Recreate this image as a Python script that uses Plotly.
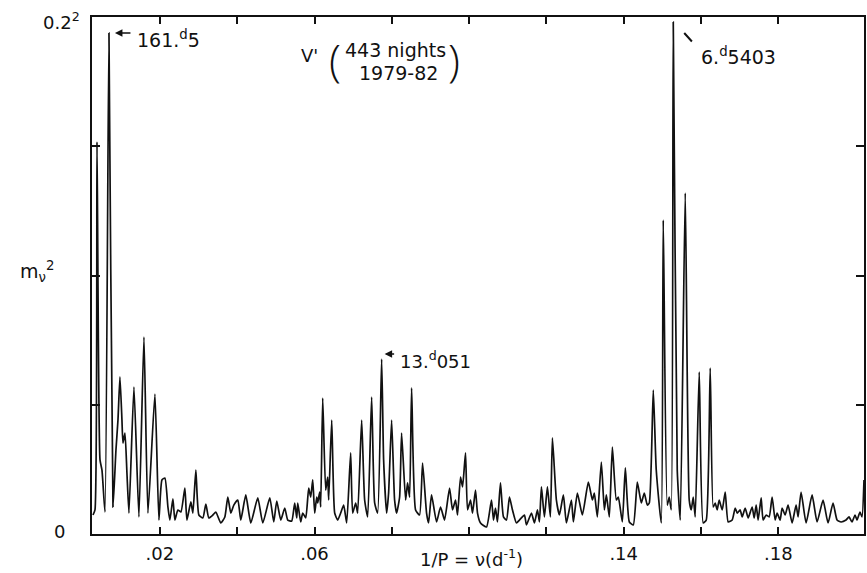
import plotly.graph_objects as go

# Frequency (1/P, d^-1) of traced turning points of the power spectrum
freq = [
    0.00269, 0.00320, 0.00372, 0.00450, 0.00501, 0.00579, 0.00682, 0.00786, 0.00863, 0.00915,
    0.00966, 0.01018, 0.01044, 0.01096, 0.01147, 0.01199, 0.01328, 0.01457, 0.01587, 0.01690,
    0.01871, 0.01974, 0.02052, 0.02129, 0.02207, 0.02258, 0.02336, 0.02388, 0.02465, 0.02543,
    0.02646, 0.02698, 0.02801, 0.02853, 0.02930, 0.03008, 0.03111, 0.03189, 0.03266, 0.03370,
    0.03447, 0.03576, 0.03680, 0.03757, 0.03835, 0.03912, 0.04016, 0.04093, 0.04222, 0.04352,
    0.04532, 0.04662, 0.04843, 0.04946, 0.05023, 0.05127, 0.05230, 0.05308, 0.05411, 0.05488,
    0.05540, 0.05566, 0.05643, 0.05695, 0.05773, 0.05850, 0.05902, 0.05954, 0.06005, 0.06057,
    0.06083, 0.06134, 0.06160, 0.06212, 0.06289, 0.06341, 0.06367, 0.06445, 0.06522, 0.06600,
    0.06677, 0.06755, 0.06832, 0.06935, 0.06987, 0.07065, 0.07116, 0.07220, 0.07297, 0.07375,
    0.07478, 0.07556, 0.07633, 0.07737, 0.07788, 0.07866, 0.07917, 0.07995, 0.08072, 0.08124,
    0.08202, 0.08253, 0.08357, 0.08408, 0.08460, 0.08512, 0.08615, 0.08718, 0.08796, 0.08899,
    0.08951, 0.09028, 0.09158, 0.09261, 0.09364, 0.09494, 0.09571, 0.09649, 0.09700, 0.09778,
    0.09830, 0.09907, 0.09959, 0.10036, 0.10088, 0.10165, 0.10217, 0.10295, 0.10450, 0.10579,
    0.10631, 0.10682, 0.10734, 0.10811, 0.10889, 0.10967, 0.11044, 0.11122, 0.11225, 0.11302,
    0.11432, 0.11483, 0.11613, 0.11690, 0.11768, 0.11819, 0.11871, 0.11948, 0.12026, 0.12103,
    0.12155, 0.12258, 0.12336, 0.12439, 0.12517, 0.12646, 0.12698, 0.12801, 0.12930, 0.13085,
    0.13189, 0.13240, 0.13318, 0.13421, 0.13499, 0.13551, 0.13628, 0.13706, 0.13809, 0.13861,
    0.13964, 0.14042, 0.14145, 0.14248, 0.14352, 0.14455, 0.14532, 0.14610, 0.14662, 0.14765,
    0.14842, 0.14972, 0.15023, 0.15127, 0.15178, 0.15230, 0.15282, 0.15385, 0.15463, 0.15592,
    0.15695, 0.15747, 0.15799, 0.15850, 0.15954, 0.16057, 0.16135, 0.16238, 0.16315, 0.16367,
    0.16419, 0.16470, 0.16548, 0.16626, 0.16703, 0.16806, 0.16884, 0.16936, 0.17013, 0.17065,
    0.17142, 0.17220, 0.17323, 0.17375, 0.17427, 0.17478, 0.17556, 0.17607, 0.17685, 0.17763,
    0.17840, 0.17918, 0.17969, 0.18047, 0.18098, 0.18176, 0.18253, 0.18357, 0.18460, 0.18512,
    0.18589, 0.18719, 0.18874, 0.19003, 0.19158, 0.19287, 0.19416, 0.19520, 0.19623, 0.19752,
    0.19830, 0.19907, 0.19985, 0.20036, 0.20114, 0.20166, 0.20217,
]

# Power m_nu^2 in units of 1e-3 mag^2 (0.2^2 = 40)
power = [
    1.47, 1.86, 30.33, 5.73, 4.95, 1.70, 38.76, 2.09, 6.50, 8.82,
    12.15, 8.82, 7.04, 7.81, 4.72, 1.62, 11.37, 1.32, 15.24, 1.62,
    10.83, 1.08, 4.18, 4.33, 2.09, 1.08, 2.71, 1.08, 1.86, 1.70,
    3.56, 1.08, 2.48, 1.62, 4.95, 1.47, 1.24, 2.32, 1.24, 1.47,
    1.70, 0.85, 1.32, 2.86, 1.62, 2.24, 2.63, 1.08, 3.02, 0.85,
    2.79, 0.85, 2.79, 0.93, 2.55, 1.08, 2.01, 1.08, 1.01, 2.40,
    1.24, 2.40, 0.93, 1.62, 1.24, 3.56, 2.86, 4.18, 1.62, 2.86,
    2.40, 3.25, 2.09, 10.52, 3.40, 4.41, 2.63, 8.82, 1.62, 1.08,
    1.62, 2.24, 0.85, 6.27, 1.62, 2.40, 1.62, 8.82, 2.63, 1.32,
    10.60, 2.40, 1.62, 13.54, 5.73, 1.62, 3.17, 8.82, 2.63, 1.62,
    2.86, 7.81, 2.63, 3.95, 2.86, 11.30, 1.86, 1.47, 5.49, 1.62,
    0.85, 3.02, 0.93, 2.09, 1.08, 3.56, 1.86, 2.63, 1.47, 4.41,
    3.64, 6.27, 1.86, 2.63, 1.62, 3.40, 1.62, 0.85, 0.54, 2.63,
    1.08, 2.01, 0.93, 3.95, 1.32, 1.08, 2.86, 1.86, 0.85, 1.08,
    1.47, 0.70, 1.62, 0.85, 1.86, 0.93, 3.64, 1.32, 3.64, 1.32,
    7.43, 2.63, 1.47, 3.02, 0.85, 2.63, 0.93, 3.17, 1.47, 4.02,
    2.63, 3.17, 1.32, 5.57, 1.86, 3.02, 1.32, 6.73, 2.63, 2.86,
    0.93, 5.11, 0.93, 0.70, 4.02, 2.40, 3.17, 2.24, 2.40, 11.14,
    4.95, 0.85, 24.29, 2.24, 2.86, 1.86, 39.61, 4.95, 1.08, 26.38,
    2.63, 1.86, 2.86, 1.32, 12.53, 0.85, 1.08, 12.84, 2.09, 2.40,
    1.86, 2.63, 1.86, 3.25, 0.93, 1.08, 2.01, 1.62, 1.86, 1.32,
    2.01, 1.24, 2.09, 1.24, 2.24, 1.08, 2.79, 1.08, 1.47, 1.32,
    2.86, 1.08, 1.62, 1.08, 2.01, 1.47, 2.24, 0.85, 2.24, 1.32,
    3.25, 0.85, 3.02, 0.93, 2.63, 0.85, 2.40, 1.08, 0.93, 1.08,
    1.32, 0.93, 1.47, 1.08, 1.70, 1.32, 4.18,
]

x_tickvals = [0.02, 0.04, 0.06, 0.08, 0.10, 0.12, 0.14, 0.16, 0.18]
x_ticktext = [".02", "", ".06", "", "", "", ".14", "", ".18"]
y_tickvals = [10, 20, 30]

FONT = "DejaVu Sans"
INK = "#111111"

fig = go.Figure()
fig.add_trace(go.Scatter(
    x=freq, y=power, mode="lines",
    line=dict(color=INK, width=1.7, shape="spline", smoothing=0.5),
    hoverinfo="skip", showlegend=False,
))

fig.update_layout(
    width=867, height=573,
    margin=dict(l=92, r=1, t=17, b=39),
    paper_bgcolor="white", plot_bgcolor="white",
    font=dict(family=FONT, color=INK, size=18),
    showlegend=False,
)
fig.update_xaxes(
    range=[0.00243, 0.20217], showgrid=False, zeroline=False,
    showline=True, linecolor=INK, linewidth=2, mirror="ticks",
    ticks="inside", ticklen=7, tickwidth=1.5, tickcolor=INK,
    tickvals=x_tickvals, ticktext=x_ticktext,
    tickfont=dict(family=FONT, size=18, color=INK),
    ticklabelstandoff=2,
)
fig.update_yaxes(
    range=[0, 40], showgrid=False, zeroline=False,
    showline=True, linecolor=INK, linewidth=2, mirror="ticks",
    ticks="inside", ticklen=8, tickwidth=1.5, tickcolor=INK,
    tickvals=y_tickvals, showticklabels=False,
)

ann = []
# axis labels
ann.append(dict(xref="paper", yref="paper", x=-0.0129, y=0.992, xanchor="right", yanchor="middle",
                text="0.2<sup>2</sup>", showarrow=False, font=dict(size=18)))
ann.append(dict(xref="paper", yref="paper", x=-0.0426, y=0.004, xanchor="center", yanchor="middle",
                text="0", showarrow=False, font=dict(size=18)))
ann.append(dict(xref="paper", yref="paper", x=-0.071, y=0.507, xanchor="center", yanchor="middle",
                text="m<sub>ν</sub><sup>2</sup>", showarrow=False, font=dict(size=19)))
ann.append(dict(xref="paper", yref="paper", x=0.491, y=-0.0464, xanchor="center", yanchor="middle",
                text="1/P = ν(d<sup>-1</sup>)", showarrow=False, font=dict(size=18)))

# title block
ann.append(dict(xref="paper", yref="paper", x=0.2817, y=0.9246, xanchor="center", yanchor="middle",
                text="V'", showarrow=False, font=dict(size=18)))
ann.append(dict(xref="paper", yref="paper", x=0.3152, y=0.916, xanchor="center", yanchor="middle",
                text="(", showarrow=False, font=dict(size=44, family="Open Sans", weight=300)))
ann.append(dict(xref="paper", yref="paper", x=0.469, y=0.916, xanchor="center", yanchor="middle",
                text=")", showarrow=False, font=dict(size=44, family="Open Sans", weight=300)))
ann.append(dict(xref="paper", yref="paper", x=0.3928, y=0.936, xanchor="center", yanchor="middle",
                text="443 nights", showarrow=False, font=dict(size=19)))
ann.append(dict(xref="paper", yref="paper", x=0.3966, y=0.8917, xanchor="center", yanchor="middle",
                text="1979-82", showarrow=False, font=dict(size=19)))

# peak labels with arrows
ann.append(dict(x=0.00837, y=38.76, ax=17, ay=0, text="", showarrow=True,
                arrowhead=2, arrowsize=1, arrowwidth=1.5, arrowcolor=INK))
ann.append(dict(x=0.01354, y=38.3, xanchor="left", yanchor="middle",
                text="161.<sup>d</sup>5", showarrow=False, font=dict(size=19)))

ann.append(dict(x=0.07814, y=13.93, ax=11, ay=0, text="", showarrow=True,
                arrowhead=2, arrowsize=1, arrowwidth=1.5, arrowcolor=INK))
ann.append(dict(x=0.0815, y=13.46, xanchor="left", yanchor="middle",
                text="13.<sup>d</sup>051", showarrow=False, font=dict(size=18)))

ann.append(dict(x=0.15566, y=38.76, ax=9, ay=10, text="", showarrow=True,
                arrowhead=0, arrowwidth=2, arrowcolor=INK))
ann.append(dict(x=0.15953, y=36.98, xanchor="left", yanchor="middle",
                text="6.<sup>d</sup>5403", showarrow=False, font=dict(size=19)))

fig.update_layout(annotations=ann)

fig.write_html(
    "out.html",
    config={"displayModeBar": False},
    post_script="document.body.style.margin='0';document.body.style.overflow='hidden';",
)
